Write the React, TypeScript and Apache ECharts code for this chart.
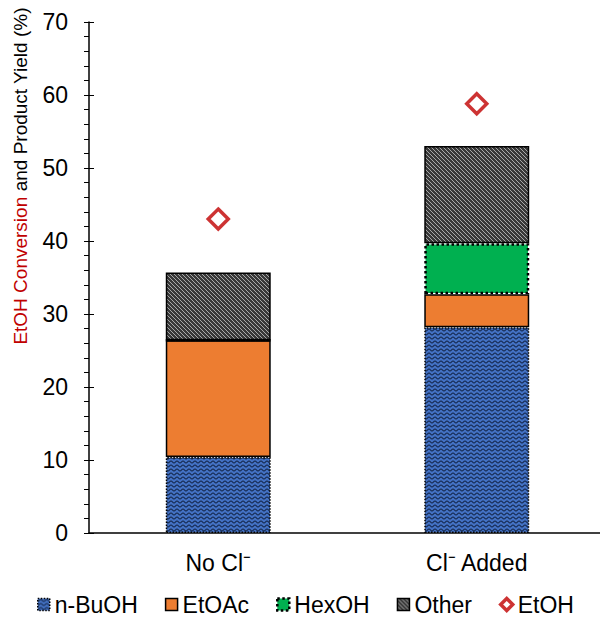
import React, { useEffect, useRef } from "react";
import * as echarts from "echarts";

const categories = ["No Cl⁻", "Cl⁻ Added"];
const nBuOH = [10.4, 28.2];
const etOAc = [16.0, 4.5];
const hexOH = [0, 7.0];
const other = [9.3, 13.3];
const etOH = [43.0, 58.8];
const yTicks = { min: 0, max: 70, interval: 10 };

function wavePattern() {
  const c = document.createElement("canvas");
  c.width = 6;
  c.height = 4;
  const g = c.getContext("2d")!;
  g.fillStyle = "#4472C4";
  g.fillRect(0, 0, 6, 4);
  g.strokeStyle = "#14264a";
  g.lineWidth = 1.1;
  g.beginPath();
  g.moveTo(0, 3);
  g.bezierCurveTo(1.5, 3, 1.5, 1, 3, 1);
  g.bezierCurveTo(4.5, 1, 4.5, 3, 6, 3);
  g.stroke();
  return c;
}

function stripePattern() {
  const c = document.createElement("canvas");
  c.width = 4;
  c.height = 4;
  const g = c.getContext("2d")!;
  g.fillStyle = "#383838";
  g.fillRect(0, 0, 4, 4);
  g.strokeStyle = "#a8a8a8";
  g.lineWidth = 1;
  g.beginPath();
  g.moveTo(-1, -1);
  g.lineTo(5, 5);
  g.moveTo(-1, 3);
  g.lineTo(1, 5);
  g.moveTo(3, -1);
  g.lineTo(5, 1);
  g.stroke();
  return c;
}

export default function App() {
  const ref = useRef<HTMLDivElement>(null);
  useEffect(() => {
    const chart = echarts.init(ref.current!, undefined, { renderer: "svg" });
    const font = "Arial, 'Liberation Sans', sans-serif";
    const wave = { image: wavePattern(), repeat: "repeat" } as any;
    const stripes = { image: stripePattern(), repeat: "repeat" } as any;
    const nStyle = { color: wave, borderColor: "#000", borderWidth: 1.5, borderType: "dotted" };
    const eStyle = { color: "#ED7D31", borderColor: "#000", borderWidth: 1.5 };
    const hStyle = { color: "#00B050", borderColor: "#000", borderWidth: 2.5, borderType: "dotted" };
    const oStyle = { color: stripes, borderColor: "#000", borderWidth: 1.5 };
    chart.setOption({
      animation: false,
      textStyle: { fontFamily: font },
      grid: { left: 89, right: 6, top: 22, bottom: 85 },
      legend: {
        top: 593,
        left: 37,
        padding: 0,
        itemWidth: 12,
        itemHeight: 12,
        itemGap: 27,
        textStyle: { fontSize: 23, color: "#000", fontFamily: font },
        data: [
          { name: "n-BuOH", icon: "rect", itemStyle: nStyle },
          { name: "EtOAc", icon: "rect", itemStyle: eStyle },
          { name: "HexOH", icon: "rect", itemStyle: hStyle },
          { name: "Other", icon: "rect", itemStyle: oStyle },
          { name: "EtOH", icon: "diamond", itemStyle: { color: "#fff", borderColor: "#C00000", borderWidth: 3.5 } },
        ],
      },
      xAxis: {
        type: "category",
        data: categories,
        axisLine: { lineStyle: { color: "#000", width: 1.5 } },
        axisTick: { inside: true, length: 6, lineStyle: { color: "#000" } },
        axisLabel: { fontSize: 23, color: "#000", margin: 18, fontFamily: font },
      },
      yAxis: [
        {
          type: "value",
          ...yTicks,
          axisLine: { show: true, lineStyle: { color: "#000", width: 1.5 } },
          axisTick: { show: true, length: 5, lineStyle: { color: "#000" } },
          minorTick: { show: true, splitNumber: 5, length: 5, lineStyle: { color: "#000" } },
          splitLine: { show: false },
          axisLabel: { fontSize: 23, color: "#000", margin: 21, fontFamily: font },
        },
        {
          type: "value",
          position: "left",
          ...yTicks,
          axisLine: { show: false },
          axisTick: { show: true, inside: true, length: 5, lineStyle: { color: "#000" } },
          splitLine: { show: false },
          axisLabel: { show: false },
        },
      ],
      graphic: [
        {
          type: "text",
          x: 20,
          y: 176,
          rotation: Math.PI / 2,
          style: {
            text: "{r|EtOH Conversion} {b|and Product Yield (%)}",
            align: "center",
            verticalAlign: "middle",
            rich: {
              r: { fill: "#C00000", fontSize: 19, fontFamily: font },
              b: { fill: "#000", fontSize: 19, fontFamily: font },
            },
            fontSize: 19,
            fontFamily: font,
          },
        },
      ],
      series: [
        { name: "n-BuOH", type: "bar", stack: "a", barWidth: "40.6%", data: nBuOH, itemStyle: nStyle },
        { name: "EtOAc", type: "bar", stack: "a", data: etOAc, itemStyle: eStyle },
        { name: "HexOH", type: "bar", stack: "a", data: hexOH, itemStyle: hStyle },
        { name: "Other", type: "bar", stack: "a", data: other, itemStyle: oStyle },
        {
          name: "EtOH",
          type: "scatter",
          data: etOH,
          symbol: "diamond",
          symbolSize: 20,
          itemStyle: { color: "#fff", borderColor: "#C00000", borderWidth: 3.5 },
        },
      ],
    });
    return () => chart.dispose();
  }, []);
  return (
    <div style={{ width: 600, height: 618, position: "absolute", left: 0, top: 0, overflow: "hidden" }}>
      <div ref={ref} style={{ width: 612, height: 618 }} />
    </div>
  );
}
